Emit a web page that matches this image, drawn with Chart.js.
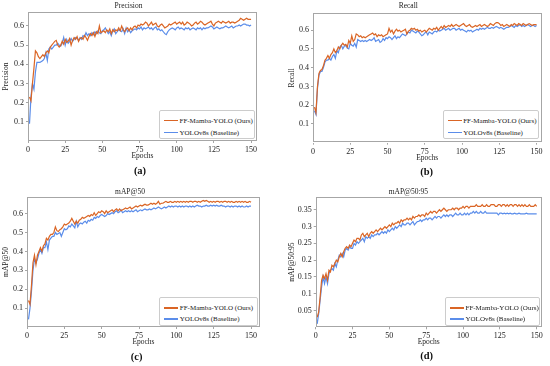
<!DOCTYPE html>
<html>
<head>
<meta charset="utf-8">
<script src="https://cdn.jsdelivr.net/npm/chart.js@4.4.0/dist/chart.umd.min.js"></script>
<style>
  body { margin: 0; background: #fff; width: 550px; height: 366px; position: relative; overflow: hidden;
         font-family: "Liberation Serif", "Times New Roman", serif; }
  .panel { position: absolute; width: 275px; height: 166px; }
  .panel canvas { position: absolute; left: 0; top: 0; }
  .tag { position: absolute; font-weight: bold; font-size: 10.5px; color: #111; transform: translate(-50%, -50%); white-space: nowrap; }
  .legend { position: absolute; border: 1px solid #cccccc; border-radius: 2px; background: #fff; box-sizing: border-box; }
  .legend .ln { position: absolute; height: 1.4px; }
  .legend .tx { position: absolute; font-size: 7px; line-height: 8px; color: #222; white-space: nowrap; }
</style>
</head>
<body>
<script>
// ---------- data ----------
const seriesNames = ["FF-Mamba-YOLO (Ours)", "YOLOv8s (Baseline)"];
const seriesColors = ["#DA6525", "#5B8DEA"];
const epochs = Array.from({ length: 150 }, (_, i) => i + 1);

const xTicks = [0, 25, 50, 75, 100, 125, 150];
const yTicks = [0.1, 0.2, 0.3, 0.4, 0.5, 0.6];
const yTickLabels = ["0.1", "0.2", "0.3", "0.4", "0.5", "0.6"];
const yTicksD = [0.05, 0.1, 0.15, 0.2, 0.25, 0.3, 0.35];
const yTickLabelsD = ["0.05", "0.1", "0.15", "0.2", "0.25", "0.3", "0.35"];

const precisionOurs = [
  0.23, 0.21, 0.30, 0.38, 0.47, 0.46, 0.44, 0.43, 0.44, 0.45,
  0.44, 0.46, 0.47, 0.46, 0.49, 0.50, 0.51, 0.52, 0.525, 0.50,
  0.49, 0.50, 0.52, 0.505, 0.53, 0.515, 0.52, 0.535, 0.50, 0.525,
  0.54, 0.53, 0.545, 0.52, 0.535, 0.54, 0.53, 0.55, 0.54, 0.525,
  0.545, 0.56, 0.55, 0.565, 0.545, 0.57, 0.56, 0.60, 0.565, 0.57,
  0.575, 0.565, 0.58, 0.57, 0.585, 0.56, 0.58, 0.57, 0.58, 0.575,
  0.59, 0.575, 0.60, 0.58, 0.57, 0.585, 0.59, 0.575, 0.59, 0.58,
  0.595, 0.60, 0.59, 0.605, 0.60, 0.61, 0.605, 0.61, 0.62, 0.615,
  0.60, 0.61, 0.62, 0.605, 0.61, 0.615, 0.60, 0.595, 0.605, 0.61,
  0.60, 0.59, 0.595, 0.60, 0.61, 0.605, 0.61, 0.615, 0.62, 0.61,
  0.615, 0.62, 0.61, 0.62, 0.605, 0.61, 0.62, 0.615, 0.61, 0.60,
  0.605, 0.615, 0.62, 0.61, 0.615, 0.625, 0.62, 0.61, 0.605, 0.61,
  0.615, 0.62, 0.625, 0.61, 0.60, 0.615, 0.62, 0.625, 0.62, 0.615,
  0.625, 0.62, 0.615, 0.62, 0.625, 0.615, 0.62, 0.62, 0.615, 0.62,
  0.625, 0.63, 0.64, 0.635, 0.63, 0.635, 0.64, 0.635, 0.635, 0.635
];
const precisionBase = [
  0.09, 0.23, 0.30, 0.27, 0.36, 0.41, 0.41, 0.41, 0.415, 0.42,
  0.43, 0.46, 0.42, 0.48, 0.49, 0.48, 0.49, 0.50, 0.50, 0.51,
  0.50, 0.495, 0.51, 0.54, 0.50, 0.53, 0.51, 0.52, 0.535, 0.52,
  0.53, 0.54, 0.535, 0.525, 0.54, 0.53, 0.55, 0.545, 0.565, 0.55,
  0.56, 0.55, 0.565, 0.555, 0.57, 0.56, 0.575, 0.565, 0.56, 0.575,
  0.58, 0.59, 0.575, 0.56, 0.57, 0.55, 0.575, 0.585, 0.56, 0.57,
  0.58, 0.575, 0.57, 0.585, 0.56, 0.59, 0.57, 0.58, 0.565, 0.575,
  0.58, 0.585, 0.58, 0.59, 0.585, 0.595, 0.58, 0.59, 0.585, 0.59,
  0.595, 0.585, 0.59, 0.58, 0.59, 0.595, 0.58, 0.585, 0.575, 0.58,
  0.57, 0.56, 0.555, 0.57, 0.58, 0.585, 0.59, 0.585, 0.58, 0.59,
  0.595, 0.585, 0.59, 0.585, 0.58, 0.59, 0.585, 0.59, 0.58, 0.585,
  0.59, 0.585, 0.58, 0.59, 0.585, 0.59, 0.58, 0.59, 0.585, 0.59,
  0.59, 0.595, 0.60, 0.595, 0.585, 0.59, 0.595, 0.59, 0.585, 0.59,
  0.59, 0.595, 0.60, 0.595, 0.59, 0.595, 0.60, 0.59, 0.595, 0.60,
  0.60, 0.605, 0.60, 0.605, 0.61, 0.61, 0.605, 0.605, 0.60, 0.605
];

const recallOurs = [
  0.19, 0.16, 0.30, 0.37, 0.385, 0.39, 0.41, 0.44, 0.45, 0.465,
  0.45, 0.47, 0.48, 0.50, 0.48, 0.49, 0.51, 0.50, 0.52, 0.53,
  0.52, 0.525, 0.51, 0.545, 0.53, 0.57, 0.54, 0.55, 0.58, 0.575,
  0.565, 0.57, 0.56, 0.565, 0.56, 0.565, 0.57, 0.575, 0.58, 0.585,
  0.575, 0.58, 0.565, 0.575, 0.57, 0.575, 0.565, 0.57, 0.575, 0.58,
  0.61, 0.59, 0.60, 0.58, 0.595, 0.605, 0.595, 0.60, 0.59, 0.595,
  0.60, 0.605, 0.58, 0.595, 0.60, 0.61, 0.605, 0.61, 0.60, 0.605,
  0.595, 0.60, 0.59, 0.595, 0.60, 0.59, 0.60, 0.61, 0.605, 0.60,
  0.61, 0.605, 0.615, 0.60, 0.61, 0.62, 0.61, 0.625, 0.615, 0.62,
  0.625, 0.62, 0.63, 0.62, 0.625, 0.63, 0.625, 0.62, 0.625, 0.63,
  0.635, 0.625, 0.62, 0.625, 0.63, 0.62, 0.615, 0.62, 0.625, 0.62,
  0.625, 0.63, 0.62, 0.625, 0.63, 0.625, 0.62, 0.625, 0.635, 0.63,
  0.625, 0.635, 0.64, 0.64, 0.635, 0.625, 0.63, 0.62, 0.625, 0.63,
  0.625, 0.62, 0.63, 0.625, 0.635, 0.63, 0.625, 0.635, 0.63, 0.625,
  0.635, 0.63, 0.625, 0.63, 0.635, 0.63, 0.625, 0.63, 0.63, 0.63
];
const recallBase = [
  0.17, 0.15, 0.29, 0.36, 0.38, 0.38, 0.40, 0.43, 0.44, 0.44,
  0.45, 0.44, 0.46, 0.47, 0.45, 0.49, 0.48, 0.51, 0.52, 0.50,
  0.515, 0.52, 0.505, 0.50, 0.53, 0.52, 0.515, 0.53, 0.51, 0.55,
  0.545, 0.54, 0.545, 0.54, 0.545, 0.54, 0.545, 0.55, 0.545, 0.55,
  0.56, 0.54, 0.545, 0.55, 0.535, 0.54, 0.555, 0.545, 0.56, 0.555,
  0.565, 0.56, 0.55, 0.56, 0.57, 0.555, 0.565, 0.56, 0.57, 0.58,
  0.575, 0.57, 0.58, 0.59, 0.585, 0.60, 0.595, 0.59, 0.585, 0.595,
  0.59, 0.58, 0.57, 0.575, 0.585, 0.59, 0.575, 0.59, 0.585, 0.58,
  0.59, 0.595, 0.59, 0.60, 0.595, 0.60, 0.605, 0.61, 0.60, 0.605,
  0.61, 0.60, 0.605, 0.61, 0.61, 0.60, 0.605, 0.61, 0.60, 0.605,
  0.60, 0.595, 0.59, 0.60, 0.595, 0.60, 0.59, 0.595, 0.60, 0.605,
  0.60, 0.61, 0.605, 0.61, 0.605, 0.61, 0.615, 0.61, 0.61, 0.615,
  0.61, 0.615, 0.62, 0.615, 0.61, 0.615, 0.61, 0.605, 0.61, 0.615,
  0.615, 0.62, 0.625, 0.62, 0.615, 0.625, 0.62, 0.625, 0.63, 0.62,
  0.625, 0.62, 0.625, 0.63, 0.625, 0.62, 0.625, 0.625, 0.62, 0.625
];

const map50Ours = [
  0.14, 0.12, 0.22, 0.34, 0.38, 0.33, 0.38, 0.40, 0.42, 0.40,
  0.43, 0.44, 0.47, 0.46, 0.48, 0.49, 0.49, 0.50, 0.53, 0.51,
  0.505, 0.515, 0.52, 0.53, 0.545, 0.54, 0.545, 0.55, 0.56, 0.575,
  0.56, 0.545, 0.56, 0.55, 0.565, 0.57, 0.58, 0.575, 0.58, 0.585,
  0.59, 0.585, 0.595, 0.59, 0.605, 0.59, 0.60, 0.61, 0.605, 0.615,
  0.61, 0.60, 0.615, 0.605, 0.61, 0.615, 0.62, 0.61, 0.62, 0.625,
  0.615, 0.625, 0.615, 0.62, 0.625, 0.63, 0.625, 0.63, 0.635, 0.625,
  0.63, 0.635, 0.64, 0.635, 0.64, 0.645, 0.64, 0.645, 0.65, 0.645,
  0.645, 0.65, 0.655, 0.65, 0.655, 0.65, 0.655, 0.665, 0.65, 0.655,
  0.655, 0.66, 0.665, 0.66, 0.66, 0.665, 0.66, 0.66, 0.665, 0.66,
  0.665, 0.66, 0.665, 0.66, 0.665, 0.66, 0.665, 0.66, 0.665, 0.665,
  0.66, 0.665, 0.665, 0.66, 0.665, 0.66, 0.665, 0.67, 0.665, 0.67,
  0.665, 0.66, 0.665, 0.66, 0.665, 0.66, 0.665, 0.665, 0.66, 0.665,
  0.66, 0.665, 0.665, 0.66, 0.665, 0.66, 0.665, 0.66, 0.66, 0.665,
  0.66, 0.665, 0.66, 0.665, 0.66, 0.665, 0.66, 0.66, 0.665, 0.66
];
const map50Base = [
  0.04, 0.10, 0.19, 0.30, 0.36, 0.34, 0.36, 0.39, 0.41, 0.39,
  0.42, 0.42, 0.45, 0.41, 0.46, 0.47, 0.48, 0.48, 0.50, 0.49,
  0.495, 0.50, 0.48, 0.50, 0.52, 0.515, 0.52, 0.535, 0.53, 0.545,
  0.535, 0.525, 0.56, 0.53, 0.545, 0.55, 0.545, 0.555, 0.56, 0.55,
  0.565, 0.56, 0.57, 0.565, 0.58, 0.575, 0.585, 0.58, 0.59, 0.595,
  0.59, 0.585, 0.59, 0.60, 0.595, 0.60, 0.605, 0.60, 0.61, 0.615,
  0.605, 0.61, 0.62, 0.605, 0.61, 0.615, 0.61, 0.615, 0.61, 0.615,
  0.61, 0.615, 0.62, 0.61, 0.615, 0.62, 0.615, 0.62, 0.625, 0.62,
  0.62, 0.625, 0.62, 0.625, 0.63, 0.625, 0.63, 0.635, 0.63, 0.625,
  0.63, 0.635, 0.63, 0.635, 0.64, 0.635, 0.64, 0.635, 0.64, 0.64,
  0.635, 0.64, 0.635, 0.64, 0.635, 0.64, 0.64, 0.635, 0.64, 0.635,
  0.64, 0.635, 0.64, 0.645, 0.64, 0.64, 0.635, 0.64, 0.64, 0.645,
  0.64, 0.64, 0.645, 0.64, 0.645, 0.64, 0.645, 0.64, 0.64, 0.645,
  0.64, 0.64, 0.635, 0.64, 0.64, 0.635, 0.64, 0.635, 0.64, 0.64,
  0.635, 0.64, 0.635, 0.64, 0.635, 0.635, 0.64, 0.635, 0.64, 0.64
];

const map5095Ours = [
  0.03, 0.045, 0.09, 0.14, 0.155, 0.145, 0.16, 0.14, 0.17, 0.165,
  0.185, 0.18, 0.19, 0.20, 0.195, 0.21, 0.22, 0.21, 0.225, 0.235,
  0.24, 0.235, 0.245, 0.24, 0.25, 0.26, 0.255, 0.265, 0.265, 0.26,
  0.275, 0.28, 0.27, 0.275, 0.28, 0.27, 0.28, 0.285, 0.28, 0.285,
  0.29, 0.285, 0.29, 0.295, 0.29, 0.295, 0.30, 0.295, 0.30, 0.305,
  0.30, 0.31, 0.305, 0.31, 0.31, 0.315, 0.31, 0.32, 0.315, 0.32,
  0.32, 0.325, 0.32, 0.325, 0.32, 0.33, 0.325, 0.33, 0.33, 0.335,
  0.33, 0.335, 0.335, 0.33, 0.34, 0.335, 0.34, 0.345, 0.34, 0.345,
  0.345, 0.34, 0.345, 0.35, 0.345, 0.35, 0.355, 0.35, 0.345, 0.35,
  0.35, 0.35, 0.355, 0.35, 0.355, 0.355, 0.35, 0.355, 0.355, 0.36,
  0.355, 0.36, 0.36, 0.355, 0.36, 0.36, 0.36, 0.36, 0.365, 0.36,
  0.36, 0.36, 0.365, 0.36, 0.36, 0.365, 0.36, 0.36, 0.365, 0.365,
  0.365, 0.36, 0.36, 0.365, 0.365, 0.36, 0.365, 0.365, 0.36, 0.365,
  0.36, 0.365, 0.365, 0.36, 0.365, 0.365, 0.36, 0.365, 0.36, 0.365,
  0.36, 0.365, 0.36, 0.36, 0.365, 0.36, 0.36, 0.36, 0.365, 0.36
];
const map5095Base = [
  0.01, 0.04, 0.08, 0.12, 0.15, 0.13, 0.15, 0.13, 0.16, 0.17,
  0.175, 0.17, 0.19, 0.18, 0.20, 0.215, 0.21, 0.22, 0.21, 0.23,
  0.235, 0.23, 0.24, 0.235, 0.235, 0.25, 0.245, 0.255, 0.25, 0.255,
  0.26, 0.265, 0.255, 0.27, 0.265, 0.27, 0.265, 0.275, 0.27, 0.275,
  0.275, 0.28, 0.275, 0.28, 0.285, 0.28, 0.285, 0.28, 0.29, 0.285,
  0.29, 0.295, 0.29, 0.30, 0.295, 0.30, 0.305, 0.30, 0.31, 0.305,
  0.305, 0.31, 0.31, 0.305, 0.31, 0.315, 0.305, 0.31, 0.315, 0.315,
  0.32, 0.315, 0.32, 0.32, 0.325, 0.32, 0.325, 0.325, 0.32, 0.325,
  0.33, 0.325, 0.33, 0.33, 0.325, 0.33, 0.335, 0.33, 0.335, 0.33,
  0.335, 0.335, 0.33, 0.335, 0.34, 0.335, 0.335, 0.34, 0.335, 0.335,
  0.34, 0.335, 0.34, 0.335, 0.34, 0.34, 0.345, 0.34, 0.345, 0.34,
  0.34, 0.345, 0.34, 0.34, 0.345, 0.34, 0.34, 0.34, 0.34, 0.34,
  0.34, 0.34, 0.34, 0.335, 0.34, 0.34, 0.338, 0.34, 0.338, 0.34,
  0.338, 0.34, 0.338, 0.338, 0.34, 0.338, 0.338, 0.34, 0.338, 0.338,
  0.338, 0.338, 0.34, 0.338, 0.338, 0.338, 0.338, 0.338, 0.338, 0.338
];

// ---------- layout of the four panels (pixels inside each 275px quadrant) ----------
const panels = [
  { tag: "(a)", title: "Precision", yLabel: "Precision", ours: precisionOurs, base: precisionBase,
    left: 0, top: 0, plotL: 28, plotR: 257, plotT: 12, plotB: 141, titleY: 5.7, yTitleX: 6,
    xMax: 154, yMax: 0.673, yt: yTicks, ytl: yTickLabels, tagY: 170, tagX: 140,
    leg: { x: 159, row1: 120.7, row2: 132.7 } },
  { tag: "(b)", title: "Recall", yLabel: "Recall", ours: recallOurs, base: recallBase,
    left: 275, top: 0, plotL: 38, plotR: 266.5, plotT: 13.3, plotB: 142.7, titleY: 5.7, yTitleX: 17.3,
    xMax: 153.3, yMax: 0.69, yt: yTicks, ytl: yTickLabels, tagY: 171, tagX: 151.7,
    leg: { x: 167.7, row1: 120.7, row2: 132.7 } },
  { tag: "(c)", title: "mAP@50", yLabel: "mAP@50", ours: map50Ours, base: map50Base,
    left: 0, top: 183, plotL: 27, plotR: 260, plotT: 14, plotB: 144, titleY: 9, yTitleX: 6,
    xMax: 156, yMax: 0.688, yt: yTicks, ytl: yTickLabels, tagY: 173, tagX: 136.7,
    leg: { x: 159.3, row1: 125, row2: 136 } },
  { tag: "(d)", title: "mAP@50:95", yLabel: "mAP@50:95", ours: map5095Ours, base: map5095Base,
    left: 275, top: 183, plotL: 40.7, plotR: 266.7, plotT: 14, plotB: 144.3, titleY: 9, yTitleX: 17.3,
    xMax: 153.4, yMax: 0.388, yt: yTicksD, ytl: yTickLabelsD, tagY: 172.3, tagX: 151.7,
    leg: { x: 170, row1: 125, row2: 136 } }
];

const W = 275, H = 166;
const FONT = "'Liberation Serif', 'Times New Roman', serif";
const TXT = "#222";

// grey box around the plot area, like matplotlib spines
const frame = {
  id: "frame",
  afterDraw(chart) {
    const { ctx, chartArea: a } = chart;
    ctx.save();
    ctx.strokeStyle = "#a6a6a6";
    ctx.lineWidth = 1;
    ctx.strokeRect(Math.round(a.left) + 0.5, Math.round(a.top) + 0.5,
      Math.round(a.right - a.left) - 1, Math.round(a.bottom - a.top) - 1);
    ctx.restore();
  }
};

function buildPanel(p) {
  const holder = document.createElement("div");
  holder.className = "panel";
  holder.style.left = p.left + "px";
  holder.style.top = p.top + "px";
  document.body.appendChild(holder);

  const cv = document.createElement("canvas");
  cv.width = W; cv.height = H;
  cv.style.width = W + "px"; cv.style.height = H + "px";
  holder.appendChild(cv);

  const lh = 9;        // title line height (7.5px * 1.2)
  const tickLh = 9.6;  // tick label line height (8px * 1.2)

  new Chart(cv.getContext("2d"), {
    type: "line",
    data: {
      labels: epochs,
      datasets: [
        { label: seriesNames[0], data: p.ours, borderColor: seriesColors[0], borderWidth: 1.2,
          pointRadius: 0, tension: 0, fill: false },
        { label: seriesNames[1], data: p.base, borderColor: seriesColors[1], borderWidth: 1.2,
          pointRadius: 0, tension: 0, fill: false }
      ]
    },
    options: {
      responsive: false,
      animation: false,
      devicePixelRatio: 1,
      layout: { padding: { left: 0, top: 0, bottom: 0, right: W - p.plotR } },
      plugins: {
        legend: { display: false },
        tooltip: { enabled: false },
        title: {
          display: true, text: p.title, color: TXT,
          font: { family: FONT, size: 7.5, weight: "normal" },
          padding: { top: p.titleY - lh / 2, bottom: p.plotT - p.titleY - lh / 2 }
        }
      },
      scales: {
        x: {
          type: "linear", min: 0, max: p.xMax,
          afterBuildTicks: s => { s.ticks = xTicks.map(v => ({ value: v })); },
          afterFit: s => { s.height = H - p.plotB; },
          ticks: { font: { family: FONT, size: 8 }, color: TXT, padding: 2, maxRotation: 0, autoSkip: false },
          grid: { display: true, drawOnChartArea: false, tickLength: 2, color: "#a6a6a6" },
          border: { display: false },
          title: { display: true, text: "Epochs", color: TXT, font: { family: FONT, size: 7.5 },
                   padding: { top: 0, bottom: H - (p.plotB + 15) - lh / 2 } }
        },
        y: {
          type: "linear", min: 0, max: p.yMax,
          afterBuildTicks: s => { s.ticks = p.yt.map(v => ({ value: v })); },
          afterFit: s => { s.width = p.plotL; },
          ticks: { font: { family: FONT, size: 8 }, color: TXT, padding: 2,
                   callback: (v, i) => p.ytl[i] },
          grid: { display: true, drawOnChartArea: false, tickLength: 2, color: "#a6a6a6" },
          border: { display: false },
          title: { display: true, text: p.yLabel, color: TXT, font: { family: FONT, size: 7.5 },
                   padding: { top: p.yTitleX - lh / 2, bottom: 0 } }
        }
      }
    },
    plugins: [frame]
  });

  // legend box in the lower right corner of the plot
  const box = document.createElement("div");
  box.className = "legend";
  const boxTop = p.leg.row1 - 11;
  const boxBottom = p.leg.row2 + 6.5;
  box.style.left = p.leg.x + "px";
  box.style.top = boxTop + "px";
  box.style.width = (p.plotR - 2 - p.leg.x) + "px";
  box.style.height = (boxBottom - boxTop) + "px";
  [p.leg.row1, p.leg.row2].forEach((ry, i) => {
    const ln = document.createElement("div");
    ln.className = "ln";
    ln.style.background = seriesColors[i];
    ln.style.left = "4px";
    ln.style.width = "14px";
    ln.style.top = (ry - boxTop - 1.7) + "px";
    box.appendChild(ln);
    const tx = document.createElement("div");
    tx.className = "tx";
    tx.textContent = seriesNames[i];
    tx.style.left = "19.5px";
    tx.style.top = (ry - boxTop - 5) + "px";
    box.appendChild(tx);
  });
  holder.appendChild(box);

  const tag = document.createElement("div");
  tag.className = "tag";
  tag.textContent = p.tag;
  tag.style.left = p.tagX + "px";
  tag.style.top = p.tagY + "px";
  holder.appendChild(tag);
}

panels.forEach(buildPanel);
</script>
</body>
</html>
